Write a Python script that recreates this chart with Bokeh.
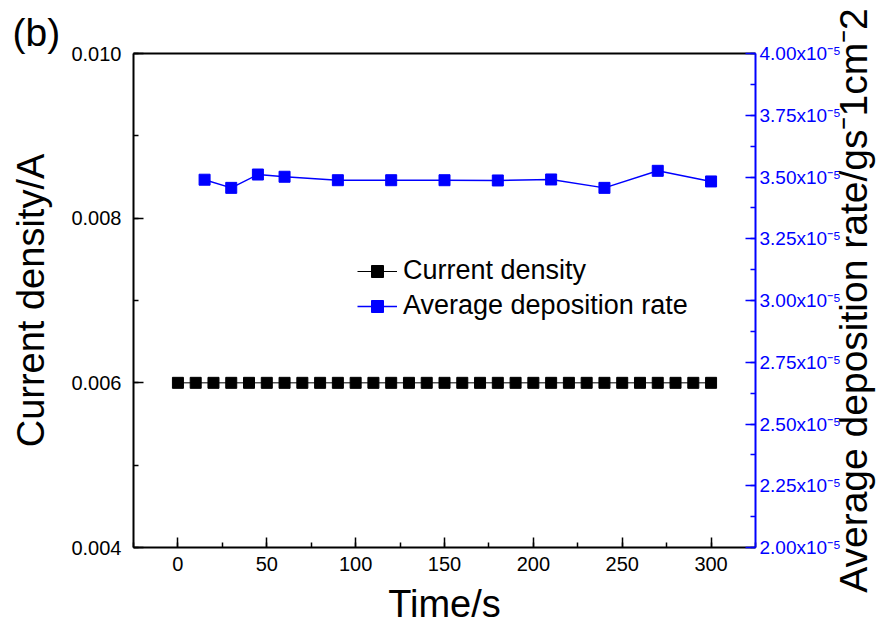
from bokeh.plotting import figure
from bokeh.layouts import row
from bokeh.models import (Range1d, LinearAxis, SingleIntervalTicker, FixedTicker, PrintfTickFormatter,
                          CustomJSTickFormatter, Legend, LegendItem, Title)
from bokeh.embed import file_html
from bokeh.resources import INLINE

# ---- data ----
current_time = [0, 10, 20, 30, 40, 50, 60, 70, 80, 90, 100, 110, 120, 130, 140, 150,
                160, 170, 180, 190, 200, 210, 220, 230, 240, 250, 260, 270, 280, 290, 300]
current_density = [0.006, 0.006, 0.006, 0.006, 0.006, 0.006, 0.006, 0.006, 0.006, 0.006,
                   0.006, 0.006, 0.006, 0.006, 0.006, 0.006, 0.006, 0.006, 0.006, 0.006,
                   0.006, 0.006, 0.006, 0.006, 0.006, 0.006, 0.006, 0.006, 0.006, 0.006, 0.006]
rate_time = [15, 30, 45, 60, 90, 120, 150, 180, 210, 240, 270, 300]
deposition_rate = [3.489e-5, 3.456e-5, 3.510e-5, 3.501e-5, 3.487e-5, 3.487e-5,
                   3.487e-5, 3.486e-5, 3.490e-5, 3.456e-5, 3.525e-5, 3.482e-5]

FONT = "Liberation Sans"
BLUE = "#0000FF"

p = figure(width=849, height=632, output_backend="svg", toolbar_location=None,
           x_range=Range1d(-25, 325), y_range=Range1d(0.004, 0.010),
           min_border_left=133, min_border_right=94, min_border_top=53, min_border_bottom=85)
p.extra_y_ranges = {"rate": Range1d(2.0e-5, 4.0e-5)}
p.xgrid.visible = False
p.ygrid.visible = False
p.outline_line_color = None
p.background_fill_color = "white"
p.border_fill_color = "white"

# panel tag as title
p.title = Title(text="(b)", align="left", offset=-121, standoff=0,
                text_font=FONT, text_font_size="39px", text_font_style="normal",
                text_color="black")

# bottom axis
xa = p.xaxis[0]
xa.ticker = SingleIntervalTicker(interval=50, num_minor_ticks=2)
xa.axis_label = "Time/s"
# left axis
ya = p.yaxis[0]
ya.ticker = SingleIntervalTicker(interval=0.002, num_minor_ticks=2)
ya.formatter = PrintfTickFormatter(format="%.3f")
ya.axis_label = "Current density/A"

for ax in (xa, ya):
    ax.axis_line_color = "black"
    ax.axis_line_width = 2
    ax.major_tick_line_color = "black"
    ax.minor_tick_line_color = "black"
    ax.major_tick_line_width = 1.5
    ax.minor_tick_line_width = 1.5
    ax.major_tick_in = 10
    ax.major_tick_out = 0
    ax.minor_tick_in = 5
    ax.minor_tick_out = 0
    ax.major_label_text_font = FONT
    ax.major_label_text_font_size = "20px"
    ax.major_label_text_color = "black"
    ax.axis_label_text_font = FONT
    ax.axis_label_text_font_size = "38px"
    ax.axis_label_text_font_style = "normal"
    ax.axis_label_text_color = "black"

xa.major_label_standoff = 9
xa.axis_label_standoff = 9
ya.major_label_standoff = 12
ya.axis_label_standoff = 16

# top axis (frame line only)
top = LinearAxis(ticker=FixedTicker(ticks=[]), axis_line_color="black", axis_line_width=2,
                 major_tick_in=0, major_tick_out=0, minor_tick_in=0, minor_tick_out=0,
                 major_label_standoff=0)
p.add_layout(top, "above")

# right axis
ra = LinearAxis(y_range_name="rate",
                ticker=SingleIntervalTicker(interval=0.25e-5, num_minor_ticks=2),
                formatter=CustomJSTickFormatter(code="return (tick*1e5).toFixed(2) + 'x10\u207B\u2075';"))
ra.axis_line_color = BLUE
ra.axis_line_width = 2
ra.major_tick_line_color = BLUE
ra.minor_tick_line_color = BLUE
ra.major_tick_line_width = 1.5
ra.minor_tick_line_width = 1.5
ra.major_tick_in = 10
ra.major_tick_out = 0
ra.minor_tick_in = 5
ra.minor_tick_out = 0
ra.major_label_text_font = FONT
ra.major_label_text_font_size = "19px"
ra.major_label_text_color = BLUE
ra.major_label_standoff = 4
p.add_layout(ra, "right")

# data
cd_line = p.line(current_time, current_density, line_color="black", line_width=1)
cd_pts = p.scatter(current_time, current_density, marker="square", size=11,
                   fill_color="black", line_color="black")
dr_line = p.line(rate_time, deposition_rate, line_color=BLUE, line_width=1.5, y_range_name="rate")
dr_pts = p.scatter(rate_time, deposition_rate, marker="square", size=11,
                   fill_color=BLUE, line_color=BLUE, y_range_name="rate")

legend = Legend(items=[LegendItem(label="Current density", renderers=[cd_line, cd_pts]),
                       LegendItem(label="Average deposition rate", renderers=[dr_line, dr_pts])],
                location=(224, 226), border_line_color=None, background_fill_alpha=0,
                padding=0, margin=0, spacing=4, glyph_width=40, glyph_height=30,
                label_height=30, label_standoff=6,
                label_text_font=FONT, label_text_font_size="27px", label_text_color="black")
p.add_layout(legend, "center")

# narrow transparent strip carrying the right-hand title, reading bottom-to-top
p2 = figure(width=48, height=632, output_backend="svg", toolbar_location=None,
            title=None, x_axis_location=None,
            x_range=Range1d(0, 1), y_range=Range1d(0, 1),
            min_border_left=42, min_border_right=0, min_border_top=24, min_border_bottom=0)
p2.margin = (0, 0, 0, -21)
p2.xgrid.visible = False
p2.ygrid.visible = False
p2.outline_line_color = None
p2.background_fill_alpha = 0
p2.border_fill_alpha = 0
la = p2.yaxis[0]
la.ticker = FixedTicker(ticks=[])
la.axis_line_color = None
la.major_tick_in = 0
la.major_tick_out = 0
la.minor_tick_in = 0
la.minor_tick_out = 0
la.major_label_standoff = 0
la.axis_label = "Average deposition rate/gs\u207B1cm\u207B2"
la.axis_label_standoff = 0
la.axis_label_text_font = FONT
la.axis_label_text_font_size = "39px"
la.axis_label_text_font_style = "normal"
la.axis_label_text_color = "black"

layout = row(p, p2, spacing=0)
open("out.html", "w").write(file_html(layout, INLINE))
